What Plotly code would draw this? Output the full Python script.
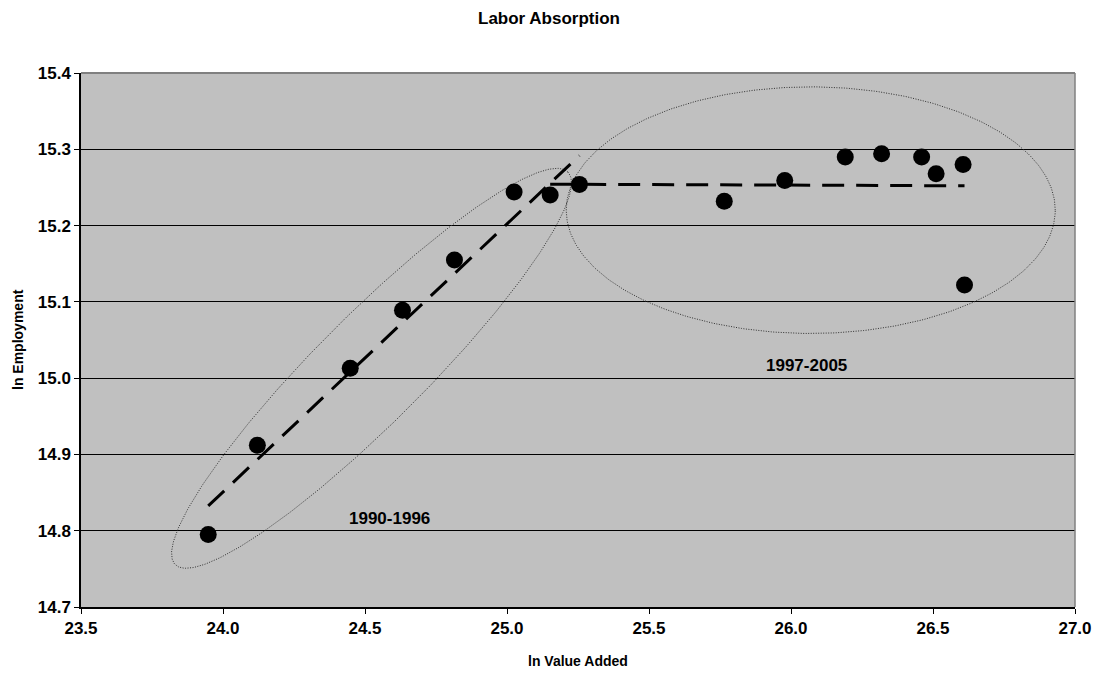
import numpy as np
import plotly.graph_objects as go

# ---------------- data ----------------
years = list(range(1990, 2006))
ln_value_added = [23.948, 24.121, 24.448, 24.632, 24.815, 25.025, 25.152, 25.255,
                  25.765, 25.978, 26.191, 26.319, 26.460, 26.511, 26.606, 26.611]
ln_employment = [14.795, 14.912, 15.013, 15.089, 15.155, 15.244, 15.240, 15.254,
                 15.232, 15.259, 15.290, 15.294, 15.290, 15.268, 15.280, 15.122]

trend1_years = (1990, 1997)
trend2_years = (1996, 2005)

x_ticks = [23.5, 24.0, 24.5, 25.0, 25.5, 26.0, 26.5, 27.0]
y_ticks = [14.7, 14.8, 14.9, 15.0, 15.1, 15.2, 15.3, 15.4]

period_labels = ["1990-1996", "1997-2005"]
label_pos_x = [24.588, 26.056]
label_pos_y = [14.816, 15.017]

# ---------------- layout constants ----------------
W, H = 1098, 673
ML, MR, MT, MB = 81, 23, 73, 66
XR = [23.5, 27.0]
YR = [14.7, 15.4]
plot_w = W - ML - MR
plot_h = H - MT - MB
px_per_x = plot_w / (XR[1] - XR[0])
px_per_y = plot_h / (YR[1] - YR[0])

FONT = "Liberation Sans, Arial, sans-serif"

fig = go.Figure()

# ---------- ellipses (annotation outlines) ----------
def ellipse_pts(cx, cy, a_px, b_px, ang_deg, n=400):
    t = np.linspace(0, 2 * np.pi, n)
    th = np.deg2rad(ang_deg)
    u = a_px * np.cos(t)
    v = b_px * np.sin(t)
    dx_px = u * np.cos(th) - v * np.sin(th)
    dy_px = u * np.sin(th) + v * np.cos(th)   # positive = up
    return cx + dx_px / px_per_x, cy + dy_px / px_per_y

ell_style = dict(color="#303030", width=1, dash="1px,1.5px")
ex1, ey1 = ellipse_pts(24.523, 15.0129, 277.6, 54.0, 45.0)
ex2, ey2 = ellipse_pts(26.0695, 15.2202, 244.5, 123.3, 0.0)
for ex, ey in [(ex1, ey1), (ex2, ey2)]:
    fig.add_trace(go.Scatter(x=ex, y=ey, mode="lines", line=ell_style,
                             hoverinfo="skip", showlegend=False))

# ---------- markers ----------
fig.add_trace(go.Scatter(x=ln_value_added, y=ln_employment, mode="markers",
                         marker=dict(color="black", size=17, line=dict(width=0)),
                         showlegend=False))

# ---------- trendlines (least squares fits) ----------
xa = np.array(ln_value_added)
ya = np.array(ln_employment)
yr = np.array(years)
for (y0, y1) in [trend1_years, trend2_years]:
    m = (yr >= y0) & (yr <= y1)
    slope, icpt = np.polyfit(xa[m], ya[m], 1)
    xs = np.array([xa[m].min(), xa[m].max()])
    fig.add_trace(go.Scatter(x=xs, y=slope * xs + icpt, mode="lines",
                             line=dict(color="black", width=3, dash="22px,12px"),
                             hoverinfo="skip", showlegend=False))

# ---------- period labels ----------
for txt, lx, ly in zip(period_labels, label_pos_x, label_pos_y):
    fig.add_annotation(x=lx, y=ly, text=f"<b>{txt}</b>", showarrow=False,
                       font=dict(family=FONT, size=17, color="black"),
                       xanchor="center", yanchor="middle")

# axis titles
fig.add_annotation(xref="paper", yref="paper", x=0.5, y=-(661 - (H - MB)) / plot_h,
                   text="<b>ln Value Added</b>", showarrow=False, xanchor="center",
                   yanchor="middle", font=dict(family=FONT, size=14, color="black"))
fig.add_annotation(xref="paper", yref="paper", x=-(ML - 18) / plot_w, y=0.5,
                   text="<b>ln Employment</b>", showarrow=False, textangle=-90,
                   xanchor="center", yanchor="middle",
                   font=dict(family=FONT, size=14, color="black"))

# top and right border
fig.add_shape(type="line", xref="paper", yref="paper", x0=0, x1=1, y0=1, y1=1,
              line=dict(color="#808080", width=2), layer="above")
fig.add_shape(type="line", xref="paper", yref="paper", x0=1, x1=1, y0=0, y1=1,
              line=dict(color="#808080", width=1.5), layer="above")

tickfont = dict(family=FONT, size=17, color="black")
fig.update_layout(
    width=W, height=H,
    autosize=False,
    margin=dict(l=ML, r=MR, t=MT, b=MB, pad=0, autoexpand=False),
    paper_bgcolor="white",
    plot_bgcolor="#C0C0C0",
    title=dict(text="<b>Labor Absorption</b>", x=0.5, xref="container", xanchor="center",
               y=1 - 18 / H, yref="container", yanchor="middle",
               font=dict(family=FONT, size=17, color="black")),
    xaxis=dict(range=XR, tickvals=x_ticks, ticktext=[f"<b>{v:.1f}</b>" for v in x_ticks],
               showgrid=False, zeroline=False, showline=True, linecolor="black",
               linewidth=1.5, ticks="outside", ticklen=5, tickcolor="black",
               tickfont=tickfont, fixedrange=True, automargin=False),
    yaxis=dict(range=YR, tickvals=y_ticks, ticktext=[f"<b>{v:.1f}</b>" for v in y_ticks],
               showgrid=True, gridcolor="black", gridwidth=1, zeroline=False,
               showline=True, linecolor="black", linewidth=1.5, ticks="outside",
               ticklen=5, tickcolor="black", tickfont=tickfont, fixedrange=True,
               automargin=False),
    showlegend=False,
)

fig.write_html("out.html", config={"responsive": False})
